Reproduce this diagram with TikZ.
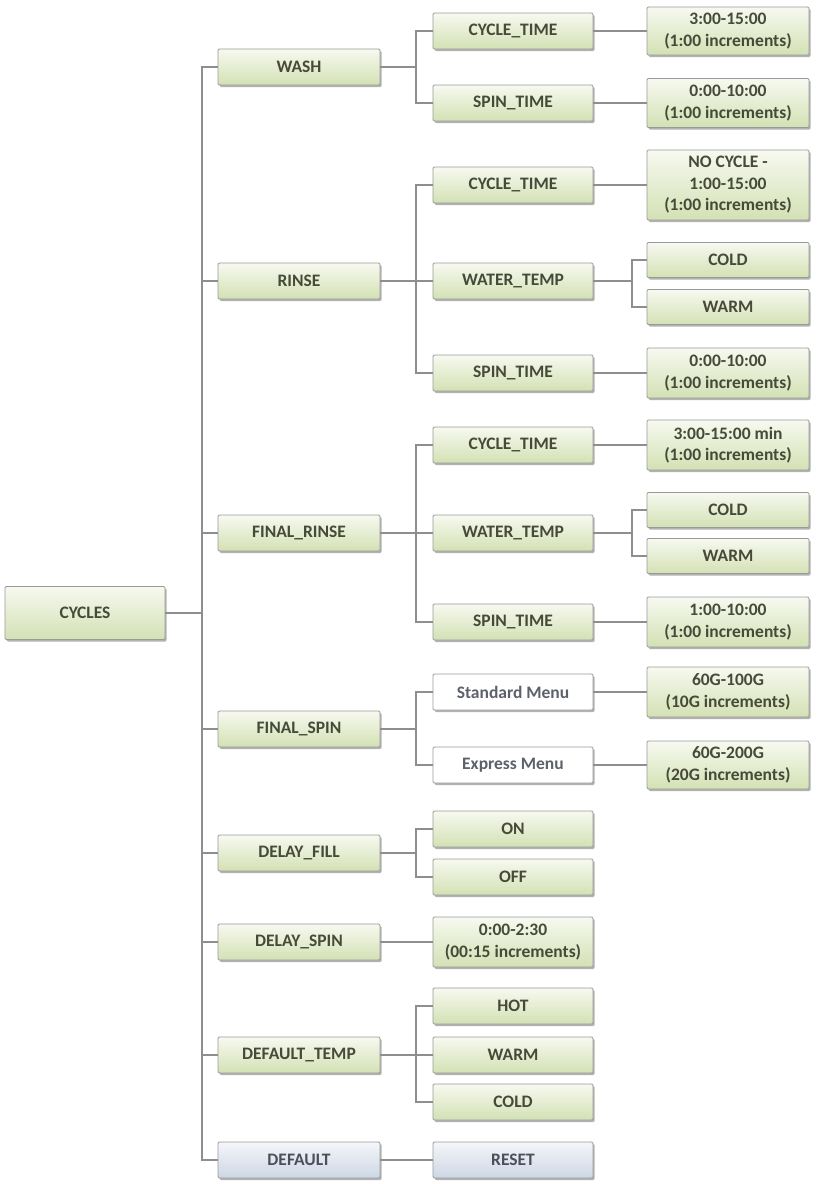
\documentclass[tikz,border=0pt]{standalone}
\usepackage{fontspec}
\setmainfont{Carlito}
\usetikzlibrary{shadows}
\definecolor{lineg}{HTML}{8E8E8E}
\definecolor{txtg}{HTML}{464A38}
\definecolor{txtb}{HTML}{4A4F5C}
\definecolor{gtop}{HTML}{F7F9F0}
\definecolor{gbot}{HTML}{D3E1B4}
\definecolor{btop}{HTML}{F4F6FA}
\definecolor{bbot}{HTML}{CDD7E4}
\definecolor{bord}{HTML}{9A9A9A}
\tikzset{
  base/.style={draw=bord, line width=0.9pt, rounded corners=1.2pt,
    minimum height=36pt, inner sep=0pt, align=center,
    font=\fontsize{17.5}{21.5}\selectfont\bfseries,
    drop shadow={shadow xshift=1.6pt, shadow yshift=-2pt, fill=black!55, opacity=0.55}},
  gbox/.style={base, top color=gtop, bottom color=gbot, text=txtg},
  bbox/.style={base, top color=btop, bottom color=bbot, text=txtb},
  wbox/.style={base, fill=white, text=txtb!90},
  lone/.style={minimum width=162pt},
  ltwo/.style={minimum width=160pt},
  lthr/.style={minimum width=162pt},
  conn/.style={draw=lineg, line width=1.4pt}
}
\begin{document}
\begin{tikzpicture}[x=1pt,y=-1pt]
\useasboundingbox (0,0) rectangle (817,1184);
\coordinate (busa) at (202,0);
\coordinate (busb) at (416,0);
\coordinate (busc) at (632,0);
% root
\node[gbox, minimum width=160pt, minimum height=53pt] (cycles) at (85,613) {CYCLES};
% level 1
\node[gbox,lone] (wash) at (299,67) {WASH};
\node[gbox,lone] (rinse) at (299,281) {RINSE};
\node[gbox,lone] (frinse) at (299,533) {FINAL\_RINSE};
\node[gbox,lone] (fspin) at (299,729) {FINAL\_SPIN};
\node[gbox,lone] (dfill) at (299,853) {DELAY\_FILL};
\node[gbox,lone] (dspin) at (299,942) {DELAY\_SPIN};
\node[gbox,lone] (dtemp) at (299,1055) {DEFAULT\_TEMP};
\node[bbox,lone] (deflt) at (299,1160) {DEFAULT};
% level 2
\node[gbox,ltwo] (ct1) at (513,31) {CYCLE\_TIME};
\node[gbox,ltwo] (st1) at (513,103) {SPIN\_TIME};
\node[gbox,ltwo] (ct2) at (513,185) {CYCLE\_TIME};
\node[gbox,ltwo] (wt2) at (513,281) {WATER\_TEMP};
\node[gbox,ltwo] (st2) at (513,373) {SPIN\_TIME};
\node[gbox,ltwo] (ct3) at (513,445) {CYCLE\_TIME};
\node[gbox,ltwo] (wt3) at (513,533) {WATER\_TEMP};
\node[gbox,ltwo] (st3) at (513,622) {SPIN\_TIME};
\node[wbox,ltwo] (smenu) at (513,692) {Standard Menu};
\node[wbox,ltwo] (emenu) at (513,765) {Express Menu};
\node[gbox,ltwo] (on) at (513,829) {ON};
\node[gbox,ltwo] (off) at (513,877) {OFF};
\node[gbox,ltwo,minimum height=50pt] (dsv) at (513,942) {0:00-2:30\\(00:15 increments)};
\node[gbox,ltwo] (hot) at (513,1006) {HOT};
\node[gbox,ltwo] (warmd) at (513,1055) {WARM};
\node[gbox,ltwo] (coldd) at (513,1102) {COLD};
\node[bbox,ltwo] (reset) at (513,1160) {RESET};
% level 3
\node[gbox,lthr,minimum height=48pt] (v1) at (728,31) {3:00-15:00\\(1:00 increments)};
\node[gbox,lthr,minimum height=49pt] (v2) at (728,103) {0:00-10:00\\(1:00 increments)};
\node[gbox,lthr,minimum height=70pt] (v3) at (728,185) {NO CYCLE -\\1:00-15:00\\(1:00 increments)};
\node[gbox,lthr,minimum height=35pt] (cold2) at (728,260) {COLD};
\node[gbox,lthr,minimum height=35pt] (warm2) at (728,307) {WARM};
\node[gbox,lthr,minimum height=50pt] (v4) at (728,373) {0:00-10:00\\(1:00 increments)};
\node[gbox,lthr,minimum height=50pt] (v5) at (728,445) {3:00-15:00 min\\(1:00 increments)};
\node[gbox,lthr,minimum height=35pt] (cold3) at (728,510) {COLD};
\node[gbox,lthr,minimum height=35pt] (warm3) at (728,556) {WARM};
\node[gbox,lthr,minimum height=50pt] (v6) at (728,622) {1:00-10:00\\(1:00 increments)};
\node[gbox,lthr,minimum height=50pt] (g1) at (728,692) {60G-100G\\(10G increments)};
\node[gbox,lthr,minimum height=48pt] (g2) at (728,765) {60G-200G\\(20G increments)};
% connectors: root to level 1
\foreach \c in {wash,rinse,frinse,fspin,dfill,dspin,dtemp,deflt}
  \draw[conn] (cycles.east) -- (cycles.east -| busa) |- (\c.west);
% level 1 to level 2
\foreach \c in {ct1,st1} \draw[conn] (wash.east) -- (wash.east -| busb) |- (\c.west);
\foreach \c in {ct2,wt2,st2} \draw[conn] (rinse.east) -- (rinse.east -| busb) |- (\c.west);
\foreach \c in {ct3,wt3,st3} \draw[conn] (frinse.east) -- (frinse.east -| busb) |- (\c.west);
\foreach \c in {smenu,emenu} \draw[conn] (fspin.east) -- (fspin.east -| busb) |- (\c.west);
\foreach \c in {on,off} \draw[conn] (dfill.east) -- (dfill.east -| busb) |- (\c.west);
\draw[conn] (dspin.east) -- (dsv.west);
\foreach \c in {hot,warmd,coldd} \draw[conn] (dtemp.east) -- (dtemp.east -| busb) |- (\c.west);
\draw[conn] (deflt.east) -- (reset.west);
% level 2 to level 3
\draw[conn] (ct1.east) -- (v1.west);
\draw[conn] (st1.east) -- (v2.west);
\draw[conn] (ct2.east) -- (v3.west);
\foreach \c in {cold2,warm2} \draw[conn] (wt2.east) -- (wt2.east -| busc) |- (\c.west);
\draw[conn] (st2.east) -- (v4.west);
\draw[conn] (ct3.east) -- (v5.west);
\foreach \c in {cold3,warm3} \draw[conn] (wt3.east) -- (wt3.east -| busc) |- (\c.west);
\draw[conn] (st3.east) -- (v6.west);
\draw[conn] (smenu.east) -- (g1.west);
\draw[conn] (emenu.east) -- (g2.west);
\end{tikzpicture}
\end{document}
